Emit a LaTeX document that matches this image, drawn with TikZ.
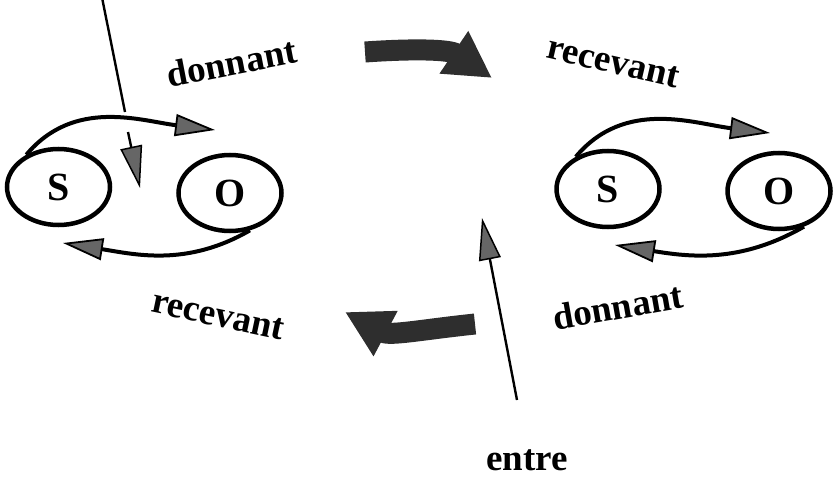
\documentclass[tikz,border=0pt]{standalone}
\usepackage{fontspec}
\setmainfont{Liberation Serif}
\usetikzlibrary{arrows.meta, shapes.geometric}

\begin{document}
\begin{tikzpicture}[x=1pt, y=1pt,
    every node/.style={font=\bfseries\fontsize{37}{40}\selectfont},
    pole/.style={ellipse, draw, line width=4.5pt, minimum width=103pt, minimum height=76pt, inner sep=0pt, font=\bfseries\fontsize{40}{44}\selectfont},
    loopflow/.style={line width=4pt, -{Triangle[length=40pt, width=22pt, fill=black!60, line width=1.8pt]}},
    pointer/.style={line width=2.4pt, -{Triangle[length=42pt, width=22pt, fill=black!60, line width=1.5pt]}},
    bigturn/.style={line width=21pt, draw=black!82, -{Triangle[length=46pt, width=48pt]}},
    word/.style={anchor=base, inner sep=1pt}
]
\useasboundingbox (0,0) rectangle (837,-476);

% Subject / object pairs
\node[pole] (s1) at (58.5,-187) {S};
\node[pole] (o1) at (230,-193)  {O};
\node[pole] (s2) at (608,-189)  {S};
\node[pole] (o2) at (779,-191)  {O};

% Labels
\node[word, rotate=11]  (don1) at (234,-75)  {donnant};
\node[word, rotate=-13] (rec1) at (611,-73)  {recevant};
\node[word, rotate=10]  (don2) at (620,-319) {donnant};
\node[word, rotate=-12] (rec2) at (216,-326) {recevant};
\node[word]             (entre) at (527,-470) {entre};

% Loose ends
\coordinate (t1) at (215,-130);
\coordinate (b1) at (63,-243);
\coordinate (t2) at (770,-133);
\coordinate (b2) at (615,-245);
\coordinate (in0) at (102.5,0);
\coordinate (in1) at (125,-112);
\coordinate (in2) at (128,-132);
\coordinate (in3) at (140,-188);
\coordinate (en0) at (517,-400);
\coordinate (en1) at (482,-218);
\coordinate (g1) at (365,-52);
\coordinate (g2) at (492,-78);
\coordinate (h1) at (475,-324);
\coordinate (h2) at (345,-312);

% Exchange loops
\draw[loopflow] (s1.135) to[out=50, in=173] (t1);
\draw[loopflow] (o1.-62) to[out=210, in=-9] (b1);
\draw[loopflow] (s2.135) to[out=50, in=173] (t2);
\draw[loopflow] (o2.-55) to[out=210, in=-9] (b2);

% Entry lines
\draw[line width=2.4pt] (in0) -- (in1);
\draw[pointer] (in2) -- (in3);
\draw[pointer] (en0) -- (en1);

% Turn-over arrows
\draw[bigturn] (g1) to[out=4, in=146] (g2);
\draw[bigturn] (h1) to[out=186, in=-28] (h2);
\end{tikzpicture}
\end{document}
